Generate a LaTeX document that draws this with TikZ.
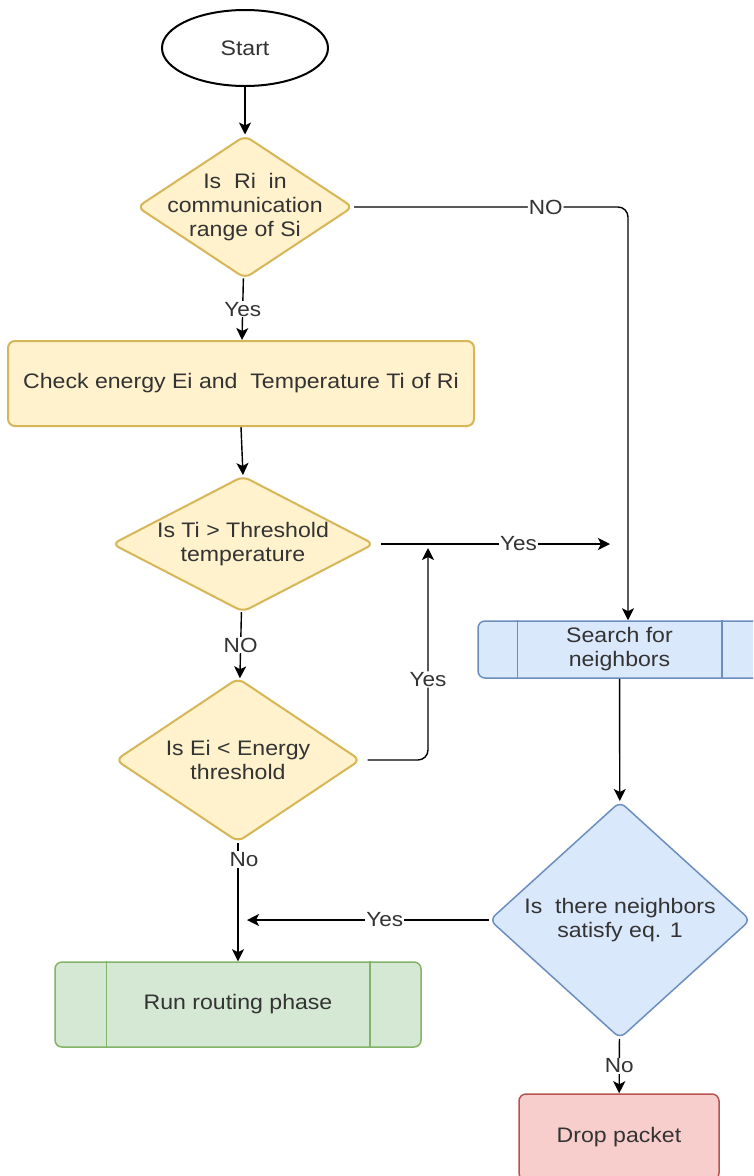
\documentclass[tikz,border=0pt]{standalone}
\usepackage{fontspec}
\setmainfont{Liberation Sans}[FakeStretch=1.1]
\usetikzlibrary{shapes.geometric,arrows.meta,calc}
\definecolor{yfill}{HTML}{FFF2CC}
\definecolor{ydraw}{HTML}{D6B656}
\definecolor{bfill}{HTML}{DAE8FC}
\definecolor{bdraw}{HTML}{6C8EBF}
\definecolor{gfill}{HTML}{D5E8D4}
\definecolor{gdraw}{HTML}{82B366}
\definecolor{rfill}{HTML}{F8CECC}
\definecolor{rdraw}{HTML}{B85450}
\definecolor{txtc}{HTML}{333333}
\tikzset{
  base/.style={font=\fontsize{21}{24}\selectfont, text=txtc, align=center, inner sep=0pt},
  terminal/.style={base, ellipse, draw=black, line width=2pt, fill=white},
  dia/.style={base, diamond, line width=2pt, rounded corners=7pt},
  ydia/.style={dia, draw=ydraw, fill=yfill},
  bdia/.style={dia, draw=bdraw, fill=bfill},
  proc/.style={base, rectangle, rounded corners=7pt, line width=2pt},
  yproc/.style={proc, draw=ydraw, fill=yfill},
  bproc/.style={proc, draw=bdraw, fill=bfill, line width=1.5pt},
  gproc/.style={proc, draw=gdraw, fill=gfill, line width=1.5pt},
  rproc/.style={proc, draw=rdraw, fill=rfill, line width=1.5pt},
  conn/.style={line width=1.4pt, draw=black},
  arr/.style={conn, -{Stealth[length=12pt,width=12pt,inset=3pt]}},
  elab/.style={base, fill=white, inner sep=1pt, font=\fontsize{20.5}{24}\selectfont},
  dtext/.style={base}
}
\begin{document}
\begin{tikzpicture}[x=1pt,y=-1pt]
\useasboundingbox (0,0) rectangle (753,1176);
\clip (0,0) rectangle (753,1176);
\fill[white] (0,0) rectangle (753,1176);

% nodes
\node[terminal, minimum width=166pt, minimum height=76pt] (start) at (245,48) {Start};
\node[ydia, minimum width=216pt, minimum height=143pt] (d1) at (245,207) {};
\node[dtext] (d1t) at (d1.center) {Is\ \ Ri\ \ in\\communication\\range of Si};
\node[yproc, minimum width=466pt, minimum height=85pt] (check) at (241,383.5) {Check energy Ei and\ \ Temperature Ti of Ri};
\node[ydia, minimum width=262pt, minimum height=136pt] (d2) at (243,544) {};
\node[dtext] (d2t) at (d2.center) {Is Ti > Threshold\\temperature};
\node[ydia, minimum width=245pt, minimum height=164pt] (d3) at (238,760) {};
\node[dtext] (d3t) at (d3.center) {Is Ei < Energy\\threshold};
\node[bproc, minimum width=283pt, minimum height=57pt] (search) at (619.5,649.5) {};
\node[dtext] (searcht) at (search.center) {Search for\\neighbors};
\node[bdia, minimum width=261pt, minimum height=237pt, line width=1.5pt] (d4) at (620,920) {};
\node[dtext] (d4t) at (d4.center) {Is\ \ there neighbors\\satisfy eq. 1};
\node[gproc, minimum width=366pt, minimum height=85pt] (route) at (238,1004.5) {Run routing phase};
\node[rproc, minimum width=200pt, minimum height=86pt] (drop) at (619,1137) {Drop packet};

% inner lines of predefined process boxes
\draw[bdraw, line width=1.5pt] ([xshift=40pt]search.north west) -- ([xshift=40pt]search.south west);
\draw[bdraw, line width=1.5pt] ([xshift=-40pt]search.north east) -- ([xshift=-40pt]search.south east);
\draw[gdraw, line width=1.5pt] ([xshift=52pt]route.north west) -- ([xshift=52pt]route.south west);
\draw[gdraw, line width=1.5pt] ([xshift=-52pt]route.north east) -- ([xshift=-52pt]route.south east);

% free ends
\coordinate (c1) at (628,207);
\coordinate (yesend) at (610,544);
\coordinate (loopup) at (428,548);
\coordinate (yes2end) at (247,920);

% connectors
\draw[arr] (start) -- (d1);
\draw[arr, rounded corners=10pt] (d1.east) -- node[elab, pos=0.7] {NO} (c1) -- ($(search.north)+(8.5,0)$);
\draw[arr] (d1) -- node[elab] {Yes} (check);
\draw[arr] (check.south) -- (d2.north);
\draw[arr] ([xshift=6pt]d2.east) -- node[elab, pos=0.6] {Yes} (yesend);
\draw[arr] (d2) -- node[elab] {NO} (d3);
\draw[arr, rounded corners=10pt] ([xshift=6pt]d3.east) -| node[elab, pos=0.69] {Yes} (loopup);
\draw[arr] (d3) -- node[elab, pos=0.14, xshift=6pt] {No} (route);
\draw[arr] (search) -- (d4);
\draw[arr] (d4.west) -- node[elab, pos=0.43] {Yes} (yes2end);
\draw[arr] (d4) -- node[elab, pos=0.5] {No} (drop);
\end{tikzpicture}
\end{document}
